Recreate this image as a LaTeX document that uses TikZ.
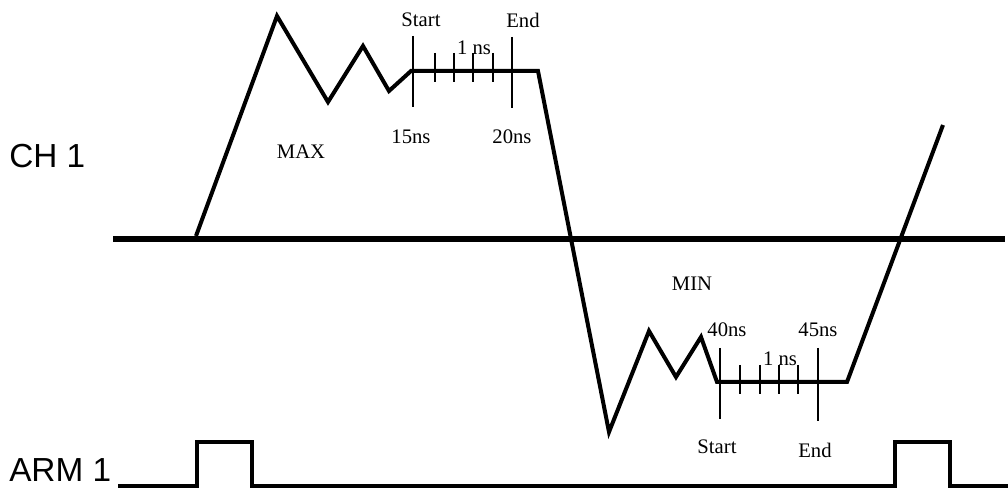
\documentclass[tikz,border=0pt]{standalone}
\usepackage{fontspec}
\setmainfont{Liberation Serif}
\newfontfamily\arialfont{Liberation Sans}
\begin{document}
\begin{tikzpicture}[
        x=0.75pt, y=-0.75pt,
        wave/.style={line width=3pt},
        axisline/.style={line width=4.6pt},
        armline/.style={line width=2.6pt},
        tick/.style={line width=1pt},
        tag/.style={font=\fontsize{15.5}{18}\selectfont, inner sep=0pt},
        chan/.style={font=\arialfont\fontsize{25}{29}\selectfont, inner sep=0pt, anchor=base west}
    ]
    \useasboundingbox (0,0) rectangle (1008,491);

    \node[chan] (ch) at (9,168) {CH 1};
    \node[chan] (arm) at (9,482) {ARM 1};

    \draw[axisline] (113,239) -- (1005,239);

    \draw[wave] (196,236) -- (277,16) -- (328,102) -- (363,46) -- (389,91)
        -- (411,71) -- (538,71) -- (609,432) -- (649,331) -- (676,377)
        -- (701,337) -- (717,382) -- (847,382) -- (943,125);

    % max window
    \draw[tick] (413,36) -- (413,107);
    \draw[tick] (512,37) -- (512,108);
    \foreach \x in {435,454,473,493}
        \draw[tick] (\x,53) -- (\x,82);
    \node[tag] (s1) at (421,20) {Start};
    \node[tag] (e1) at (523,20) {End};
    \node[tag] (n1) at (474,48) {1 ns};
    \node[tag] (t15) at (411,137) {15ns};
    \node[tag] (t20) at (512,137) {20ns};
    \node[tag] (mx) at (301,152) {MAX};

    % min window
    \draw[tick] (720,348) -- (720,419);
    \draw[tick] (818,348) -- (818,421);
    \foreach \x in {740,760,779,798}
        \draw[tick] (\x,365) -- (\x,394);
    \node[tag] (mn) at (692,284) {MIN};
    \node[tag] (t40) at (727,330) {40ns};
    \node[tag] (t45) at (818,330) {45ns};
    \node[tag] (n2) at (780,359) {1 ns};
    \node[tag] (s2) at (717,447) {Start};
    \node[tag] (e2) at (815,450) {End};

    \draw[armline] (118,486) -- (197,486) -- (197,442) -- (252,442) -- (252,486)
        -- (895,486) -- (895,442) -- (950,442) -- (950,486) -- (1008,486);
\end{tikzpicture}
\end{document}
